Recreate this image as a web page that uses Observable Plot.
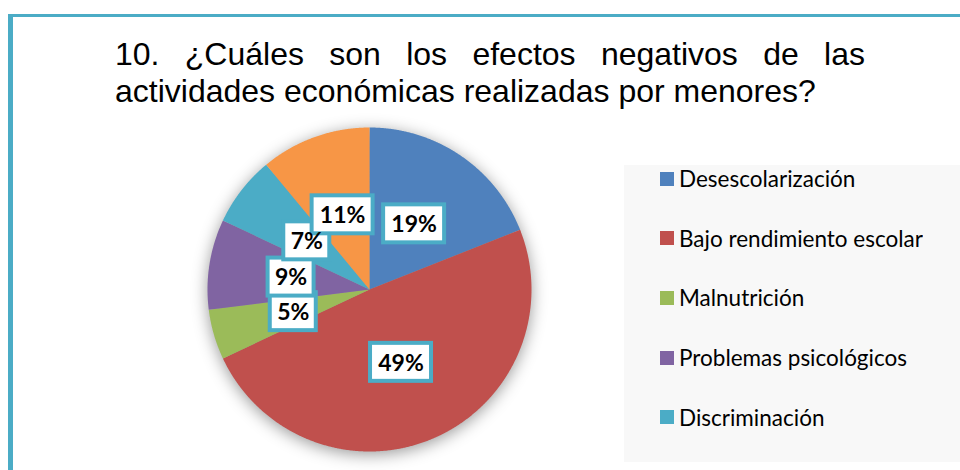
<!DOCTYPE html>
<html>
<head>
<meta charset="utf-8">
<script src="https://cdn.jsdelivr.net/npm/d3@7"></script>
<script src="https://cdn.jsdelivr.net/npm/@observablehq/plot@0.6"></script>
<style>
  html, body { margin: 0; padding: 0; background: #fff; }
  #wrap { position: relative; width: 960px; height: 470px; overflow: hidden; background: #fff; }
  #frame { position: absolute; left: 8px; top: 14px; width: 1000px; height: 1000px;
           border-top: 3px solid #4bacc6; border-left: 5px solid #4bacc6; box-sizing: border-box; }
  #legbg { position: absolute; left: 624px; top: 165px; width: 400px; height: 297px; background: #f8f8f8; }
  #title { position: absolute; left: 115px; top: 36px; width: 750px;
           font-family: "Liberation Sans", Arial, sans-serif; font-size: 32px; line-height: 37px; color: #000; }
  #title .l1 { text-align: justify; text-align-last: justify; }
  #title .l2 { text-align: left; white-space: nowrap; }
  #chart { position: absolute; left: 0; top: 115px; }
  #chart svg { background: transparent; }
  #chart svg [aria-label="line"] { filter: drop-shadow(0px 3px 8px rgba(0,0,0,0.4)); }
  #legend { position: absolute; left: 660px; top: 149px; }
  #legend .lg-swatches { font-family: Lato, "Noto Sans", sans-serif; font-size: 22.5px; color: #000; margin: 0; }
  #legend .lg-swatch { height: 59.6px; padding: 0; display: flex; align-items: center; }
  #legend .lg-swatch > svg { margin-right: 5px; }
</style>
</head>
<body>
<div id="wrap">
  <div id="frame"></div>
  <div id="legbg"></div>
  <div id="chart"></div>
  <div id="title">
    <div class="l1">10. ¿Cuáles son los efectos negativos de las</div>
    <div class="l2">actividades económicas realizadas por menores?</div>
  </div>
  <div id="legend"></div>
</div>
<script>
// ---- data ----
const categories = ["Desescolarización", "Bajo rendimiento escolar", "Malnutrición", "Problemas psicológicos", "Discriminación", "Otros"];
const percents = [19, 49, 5, 9, 7, 11];
const colors = ["#4f81bd", "#c0504d", "#9bbb59", "#8064a2", "#4bacc6", "#f79646"];
const labels = ["19%", "49%", "5%", "9%", "7%", "11%"];
// the reference legend only shows the first five entries (the sixth is cut off)
const legendCategories = categories.slice(0, 5);
const legendColors = colors.slice(0, 5);

// ---- geometry from the values ----
const arcs = d3.pie().sort(null).value(d => d)(percents);
const slicePts = [];
arcs.forEach((a, i) => {
  const name = categories[i];
  slicePts.push({name, x: 0, y: 0});
  const steps = Math.max(2, Math.ceil((a.endAngle - a.startAngle) / 0.005));
  for (let k = 0; k <= steps; k++) {
    const t = a.startAngle + (a.endAngle - a.startAngle) * k / steps;
    slicePts.push({name, x: Math.sin(t), y: Math.cos(t)});
  }
  slicePts.push({name, x: 0, y: 0});
});

const R = 162; // pixel radius
const labelR = 0.49;
const boxH = 19 / R;
const labelData = arcs.map((a, i) => {
  const m = (a.startAngle + a.endAngle) / 2;
  const hw = (8 + 7.5 * labels[i].length) / R;
  const x = labelR * Math.sin(m), y = labelR * Math.cos(m);
  return {label: labels[i], x, y, x1: x - hw, x2: x + hw, y1: y - boxH, y2: y + boxH};
});

const cx = 369, cy = 174;
const chart = Plot.plot({
  width: 960,
  height: 355,
  margin: 0,
  style: {background: "transparent", overflow: "visible"},
  x: {domain: [-1, 1], range: [cx - R, cx + R], axis: null},
  y: {domain: [-1, 1], range: [cy + R, cy - R], axis: null},
  color: {domain: categories, range: colors},
  marks: [
    Plot.line(slicePts, {x: "x", y: "y", z: "name", fill: "name", stroke: null, curve: "linear"}),
    Plot.rect(labelData, {x1: "x1", x2: "x2", y1: "y1", y2: "y2", fill: "#fff", stroke: "#4bacc6", strokeWidth: 4}),
    Plot.text(labelData, {x: "x", y: "y", text: "label", fontSize: 23, fontWeight: "bold",
      fontFamily: "Lato, 'Noto Sans', sans-serif", fill: "#000", dy: 1})
  ]
});
document.getElementById("chart").appendChild(chart);

const leg = Plot.legend({
  color: {type: "ordinal", domain: legendCategories, range: legendColors},
  legend: "swatches",
  columns: 1,
  swatchSize: 14,
  className: "lg"
});
document.getElementById("legend").appendChild(leg);
</script>
</body>
</html>
